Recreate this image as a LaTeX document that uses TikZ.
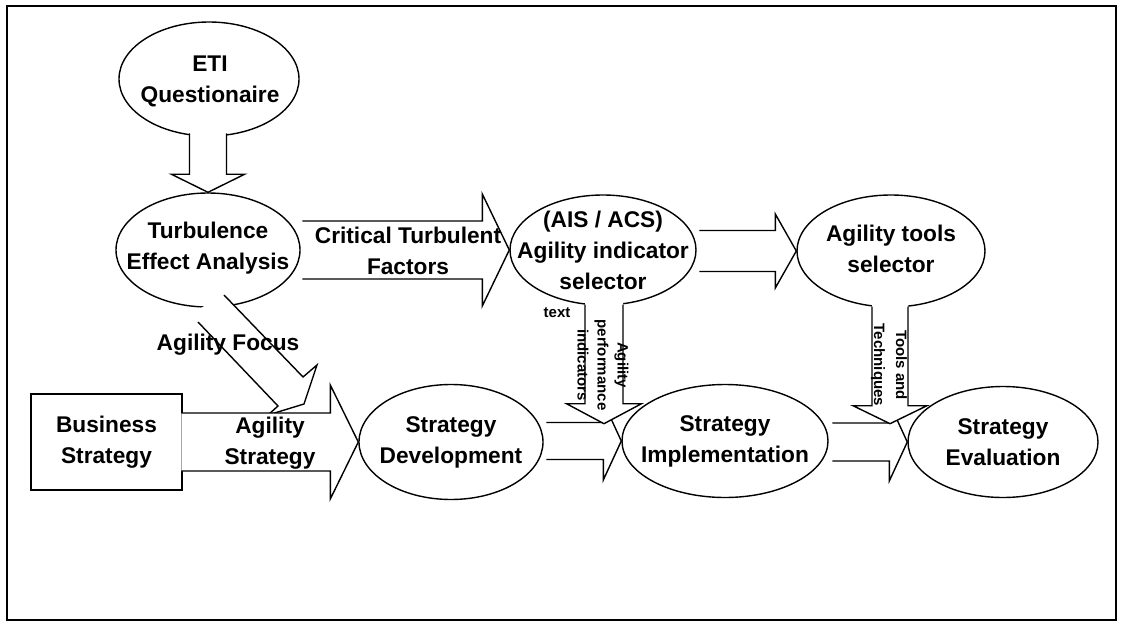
\documentclass[tikz,border=0pt]{standalone}
\usepackage{fontspec}
\setmainfont{Liberation Sans}
\usetikzlibrary{shapes.geometric,calc}

\tikzset{
  lbl/.style={font=\bfseries\fontsize{22.7}{31}\selectfont, align=center, inner sep=0pt},
  small/.style={font=\bfseries\fontsize{15}{20}\selectfont, align=center, inner sep=0pt},
  outline/.style={line width=1.4pt, line join=miter, miter limit=20},
  oval/.style={ellipse, draw, outline, inner sep=0pt},
  box/.style={rectangle, draw, outline, inner sep=0pt},
  caption/.style={label={[lbl]center:#1}},
}

% Block arrow with its tip at #1, pointing in direction #2.
% #3 stroked length, #4 filled length (back edge left open),
% #5 head length, #6 shaft half width, #7 head half width.
\newcommand{\blockarrow}[7]{%
  \begin{scope}[shift={(#1)}, rotate=#2]
    \fill[white] (-#4,#6) -- (-#5,#6) -- (-#5,#7) -- (0,0) -- (-#5,-#7) -- (-#5,-#6) -- (-#4,-#6) -- cycle;
    \draw[outline] (-#3,#6) -- (-#5,#6) -- (-#5,#7) -- (0,0) -- (-#5,-#7) -- (-#5,-#6) -- (-#3,-#6);
  \end{scope}}

\begin{document}
\begin{tikzpicture}[x=1pt, y=-1pt]
  \useasboundingbox (0,0) rectangle (1122,623);
  \fill[white] (0,0) rectangle (1122,623);
  \draw[line width=1.5pt] (7,6) rectangle (1116,620);

  % process stages
  \node[oval, minimum width=180pt, minimum height=114pt] (eti) at (209,79) {};
  \node[oval, minimum width=184pt, minimum height=114pt] (tea) at (208,250) {};
  \node[oval, minimum width=186pt, minimum height=110pt] (ais) at (603,250) {};
  \node[oval, minimum width=188pt, minimum height=112pt] (ats) at (891,251) {};
  \node[box, minimum width=151pt, minimum height=96pt] (bus) at (106.5,442) {};
  \node[oval, minimum width=184pt, minimum height=115pt] (dev) at (451,442) {};
  \node[oval, minimum width=206pt, minimum height=113pt] (imp) at (725,441) {};
  \node[oval, minimum width=190pt, minimum height=111pt] (eva) at (1003,442) {};

  % arrow tips that do not sit on a stage
  \coordinate (perftip) at ($(ais.south)+(1,118)$);
  \coordinate (tooltip) at ($(ats.south)+(-1,116)$);

  % flows between stages
  \blockarrow{tea.north}{-90}{59}{67}{18}{18.5}{36.5}
  \blockarrow{ais.west}{0}{207}{207}{27}{29}{56}
  \blockarrow{ats.west}{0}{97}{97}{21}{20.5}{37}

  % agility focus (bent block arrow)
  \fill[white] (190,314) -- (198,322) -- (278,406) -- (268,415) -- (304,404) -- (317,365) -- (303,377) -- (224,295) -- cycle;
  \draw[outline] (198,322) -- (278,406) -- (268,415) -- (304,404) -- (317,365) -- (303,377) -- (224,295);

  \blockarrow{dev.west}{0}{177}{177}{28}{29}{57}
  \blockarrow{imp.west}{0}{75}{75}{18}{18.5}{39}
  \blockarrow{eva.west}{0}{75}{75}{18}{19}{39}
  \blockarrow{perftip}{-90}{119}{127}{20}{19}{37.5}
  \blockarrow{tooltip}{-90}{117}{125}{18}{18}{37}

  % stage captions
  \node[lbl] (etit) at ($(eti.center)+(1,2)$) {ETI\\Questionaire};
  \node[lbl] (teat) at ($(tea.center)+(0,-2)$) {Turbulence\\Effect Analysis};
  \node[lbl] (aist) at (ais.center) {(AIS / ACS)\\Agility indicator\\selector};
  \node[lbl] (atst) at ($(ats.center)+(0,-2)$) {Agility tools\\selector};
  \node[lbl] (bust) at (bus.center) {Business\\Strategy};
  \node[lbl] (devt) at (dev.center) {Strategy\\Development};
  \node[lbl] (impt) at (imp.center) {Strategy\\Implementation};
  \node[lbl] (evat) at (eva.center) {Strategy\\Evaluation};

  % arrow labels
  \node[lbl] (crit) at (408,251) {Critical Turbulent\\Factors};
  \node[lbl] (agstr) at (270,443) {Agility\\Strategy};
  \node[lbl] (focus) at (228,345) {Agility Focus};
  \node[small] (txt) at (557,313) {text};
  \node[small, rotate=-90] (api) at (603,365) {Agility\\performance\\indicators};
  \node[small, rotate=-90, font=\bfseries\fontsize{15}{22}\selectfont] (tt) at (889,365) {Tools and\\Techniques};
\end{tikzpicture}
\end{document}
